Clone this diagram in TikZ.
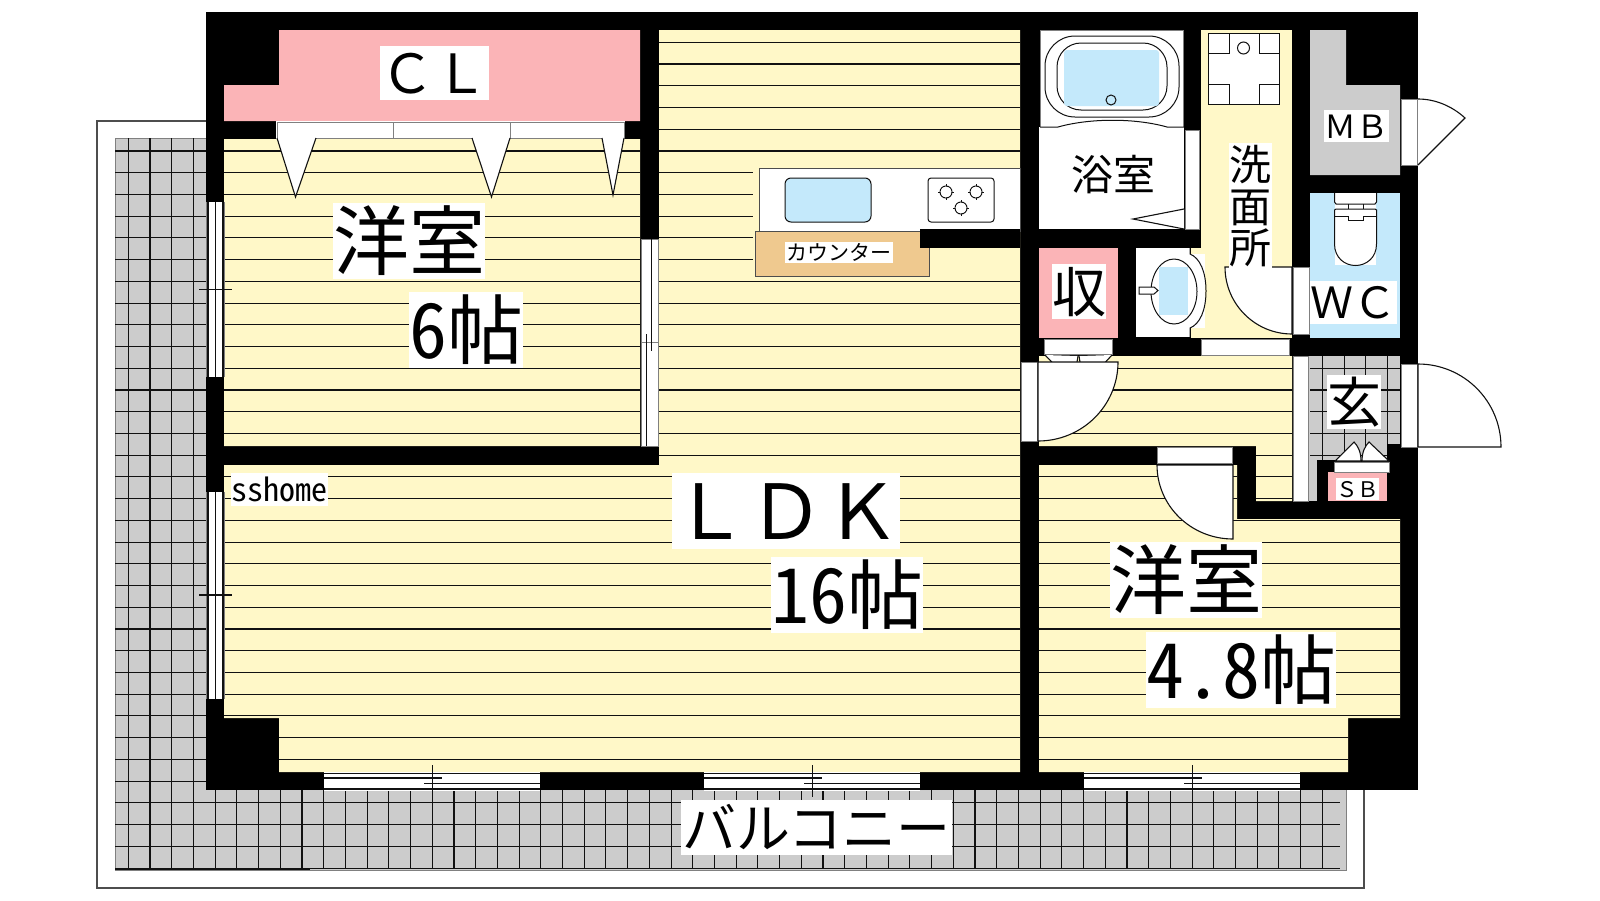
\documentclass[tikz,border=0pt]{standalone}
\usepackage{fontspec}
\newfontfamily\jp{Noto Sans CJK JP}
\newfontfamily\jph[RawFeature=+hwid]{Noto Sans CJK JP}
\definecolor{ye}{HTML}{FFF8C8}
\definecolor{pk}{HTML}{FBB4B7}
\definecolor{bl}{HTML}{C4E9FB}
\definecolor{gy}{HTML}{CCCCCC}
\definecolor{tn}{HTML}{EFC98F}
\definecolor{ln}{HTML}{111111}
\definecolor{fr}{HTML}{808080}
\tikzset{
  labbox/.style={fill=white,inner sep=0pt,outer sep=0pt,text=black},
  stripe/.style={draw=ln,line width=1.1pt},
  grid/.style={draw=ln,line width=1.1pt},
  frame/.style={fill=white,draw=fr,line width=1pt},
  inner/.style={draw=ln,line width=1.1pt},
  leaf/.style={fill=white,draw=ln,line width=1.1pt,line join=miter},
  fix/.style={draw=ln,line width=1pt},
}
\newcommand{\lab}[7]{\node[labbox,minimum width=#4pt,minimum height=#5pt] (#1) at (#2,#3) {\fontsize{#6pt}{#6pt}\selectfont\jp\rule[-.12em]{0pt}{1em}#7};}
\newcommand{\qdoor}[6]{\draw[leaf] (#1,#2) -- (#3,#4) .. controls ({#3+.5523*(#5-#1)},{#4+.5523*(#6-#2)}) and ({#5+.5523*(#3-#1)},{#6+.5523*(#4-#2)}) .. (#5,#6) -- cycle;}
\newcommand{\linedrooms}{(224,139) -- (640,139) -- (640,446) -- (224,446) -- cycle
 (659,30) -- (1020,30) -- (1020,772) -- (279,772) -- (279,718) -- (224,718) -- (224,465) -- (659,465) -- cycle
 (1039,465) -- (1237,465) -- (1237,519) -- (1400,519) -- (1400,718) -- (1348,718) -- (1348,772) -- (1039,772) -- cycle
 (1039,356) -- (1292,356) -- (1292,501) -- (1256,501) -- (1256,446) -- (1039,446) -- cycle}
\begin{document}
\begin{tikzpicture}[x=1pt,y=-1pt]
\useasboundingbox (0,0) rectangle (1600,900);
\fill[white] (0,0) rectangle (1600,900);
% balcony
\draw[draw=fr!60!black,line width=1.4pt,fill=white] (97,121) rectangle (1364,888);
\fill[gy] (115,138) rectangle (1346,870);
\draw[fr,line width=1pt] (115,138) rectangle (1346,870);
\foreach \k in {0,...,55} \draw[grid] ({128.3+21.71*\k},138) -- ({128.3+21.71*\k},868);
\foreach \k in {5,...,38} \draw[grid] (115,{42.3+21.73*\k}) -- (1340,{42.3+21.73*\k});
\draw[ln,line width=2pt] (115,869) -- (310,869);
% building mass
\fill[black] (206,12) rectangle (1418,790);
% yellow rooms
\fill[ye] \linedrooms;
\fill[ye] (1201,30) rectangle (1292,338);
\fill[ye] (1191,248) rectangle (1201,338);
\begin{scope}
\clip \linedrooms;
\foreach \k in {0,...,33} \draw[stripe] (224,{42.3+21.73*\k}) -- (1400,{42.3+21.73*\k});
\end{scope}
% closet
\fill[pk] (279,30) -- (640,30) -- (640,121) -- (224,121) -- (224,85) -- (279,85) -- cycle;
\fill[white] (276,120.5) rectangle (625,139);
\draw[frame] (277,122) rectangle (624,138);
\draw[fr,line width=1pt] (393,122) -- (393,138) (510,122) -- (510,138);
\draw[leaf] (277,138) -- (295.5,197) -- (316,138);
\draw[leaf] (472,138) -- (491.5,197) -- (510,138);
\draw[leaf] (602,138) -- (613,195) -- (624,138);
% sliding door LDK / bedroom
\draw[frame] (641,239) rectangle (658,446);
\draw[fr,line width=1pt] (641,342.7) -- (658,342.7);
\draw[inner] (651.7,239) -- (651.7,351);
\draw[inner] (646.7,334) -- (646.7,446);
% west windows
\foreach \t/\b/\m in {202/377/289.3,492/699/595}{
  \fill[white] (205.5,\t) rectangle (225,\b);
  \draw[fr,line width=1pt] (206.5,\t) -- (206.5,\b) (224,\t) -- (224,\b);
  \draw[inner] (208,\t) -- (208,\b) (215.3,\t) -- (215.3,\b) (223,\t) -- (223,\b);
  \draw[inner] (199,\m) -- (232,\m);
}
% south windows
\foreach \a in {324,704,1084}{
  \fill[white] (\a,771.5) rectangle (\a+216,791);
  \draw[inner] (\a,773.5) -- (\a+216,773.5);
  \draw[inner] (\a,789) -- (\a+216,789);
  \draw[inner] (\a,778) -- (\a+117.7,778);
  \draw[inner] (\a+100,783.5) -- (\a+216,783.5);
  \draw[inner] (\a+108.7,765) -- (\a+108.7,797);
}
% kitchen
\fill[ye] (753,161) rectangle (1020,278);
\draw[fr!60!black,line width=1pt,fill=white] (1020,168) -- (759,168) -- (759,231) -- (1020,231) -- cycle;
\draw[fix,rounded corners=6pt,fill=bl] (785,178) rectangle (871,222);
\draw[fix,rounded corners=3pt,fill=white] (928,178) rectangle (994,222);
\foreach \cx/\cy in {946/192,976/192,961/208}{
  \draw[fix,fill=white] (\cx,\cy) circle (6);
  \draw[fix] (\cx-8,\cy) -- (\cx+8,\cy) (\cx,\cy-8) -- (\cx,\cy+8);
  \draw[draw=none,fill=white] (\cx,\cy) circle (5.4);
}
\draw[draw=fr!60!black,line width=1pt,fill=tn] (755,231) rectangle (929,276);
\fill[black] (920,229) rectangle (1020,248);
% bath
\fill[white] (1040,30) rectangle (1183,127);
\fill[white] (1039,127) rectangle (1184,229);
\draw[fr,line width=.8pt] (1040,127) -- (1040,30) -- (1183,30) -- (1183,127);
\draw[fix,rounded corners=30pt] (1045,36) rectangle (1179,117);
\draw[fix,rounded corners=24pt] (1057,43) rectangle (1167,110);
\fill[bl,rounded corners=3pt] (1064,50) rectangle (1159,106);
\draw[fix,fill=bl] (1111,100) circle (5);
\draw[fix] (1040,127) -- (1058,127) .. controls (1090,118) and (1135,118) .. (1167,127) -- (1184,127);
\draw[frame] (1185,130) rectangle (1199.5,229);
\draw[leaf] (1184,209) -- (1133,219) -- (1184,229);
% washing machine pan
\draw[fix,fill=white] (1208,33) rectangle (1279,104);
\draw[fix] (1229,33) -- (1229,53) -- (1208,53);
\draw[fix] (1259,33) -- (1259,53) -- (1279,53);
\draw[fix] (1208,84) -- (1229,84) -- (1229,104);
\draw[fix] (1279,84) -- (1259,84) -- (1259,104);
\draw[fix] (1243.5,48) circle (6);
% MB
\fill[gy] (1310,30) -- (1346,30) -- (1346,85) -- (1400,85) -- (1400,175) -- (1310,175) -- cycle;
\draw[frame] (1401,99) rectangle (1417.5,165);
\draw[leaf] (1418,99) .. controls (1435,99) and (1452,106) .. (1465,118) -- (1418,165);
% WC
\fill[bl] (1310,193) rectangle (1400,338);
\fill[white] (1335,193) rectangle (1376,265);
\draw[fix] (1334.5,193) -- (1334.5,202) -- (1336,204) -- (1375,204) -- (1376.5,202) -- (1376.5,193);
\draw[fix] (1348,204) -- (1348,209) (1363,204) -- (1363,209);
\draw[fix] (1334.5,216) -- (1334.5,210) -- (1336,209) -- (1375,209) -- (1376.5,210) -- (1376.5,216);
\draw[fix] (1334.5,216) -- (1348,216) -- (1348,220) -- (1363,220) -- (1363,216) -- (1376.5,216);
\draw[fix] (1334.5,216) -- (1334.5,244) .. controls (1334.5,258) and (1345,265.5) .. (1355.5,265.5) .. controls (1366,265.5) and (1376.5,258) .. (1376.5,244) -- (1376.5,216);
% storage
\fill[pk] (1039,248) rectangle (1118,338);
\draw[frame] (1044,339) rectangle (1112,354);
\draw[leaf] (1045,355) -- (1069,380) -- (1076,368) -- (1078,356);
\draw[leaf] (1112,355) -- (1089,380) -- (1081,368) -- (1079,356);
% wash basin
\fill[white] (1136,248) rectangle (1190,337);
\fill[white] (1190,254) rectangle (1205,328);
\draw[fix] (1190,248) -- (1190,254) .. controls (1200,258) and (1206,272) .. (1206,291) .. controls (1206,310) and (1200,324) .. (1190,328) -- (1190,337);
\draw[fix] (1174,291.5) ellipse (23 and 32.5);
\fill[bl] (1159,267) rectangle (1188,315);
\draw[fix,fill=white] (1139,287) -- (1154,287) -- (1158,290.5) -- (1154,294) -- (1139,294) -- cycle;
% washroom south door frame and door
\draw[frame] (1201,339) rectangle (1289,355);
\draw[frame] (1293,267) rectangle (1309,334);
% hall sliding door and genkan
\fill[gy] (1308,356) rectangle (1400,501);
\begin{scope}
\clip (1308,356) rectangle (1400,501);
\foreach \k in {55,...,58} \draw[grid] ({128.3+21.71*\k},356) -- ({128.3+21.71*\k},470);
\foreach \k in {15,...,19} \draw[grid] (1310,{42.3+21.73*\k}) -- (1400,{42.3+21.73*\k});
\end{scope}
\draw[frame] (1293,356) rectangle (1308,501);
\fill[black] (1317,460) rectangle (1400,501);
\fill[black] (1387,444) rectangle (1400,460);
\fill[pk] (1328,472) rectangle (1387,501);
\draw[frame] (1334,462) rectangle (1389,472);
\draw[leaf] (1335,461) -- (1354,442) .. controls (1358,446) and (1361,452) .. (1361,461) -- cycle;
\draw[leaf] (1389,461) -- (1369,442) .. controls (1365,446) and (1362,452) .. (1362,461) -- cycle;
% LDK entry door
\draw[frame] (1021,362) rectangle (1037,441);
\qdoor{1038}{362}{1118}{362}{1038}{441}
% bedroom 2 door
\draw[frame] (1157,447) rectangle (1232,463);
\qdoor{1233}{465}{1157}{465}{1233}{539}
% washroom door
\qdoor{1292}{267}{1225}{267}{1292}{334}
% entrance door
\draw[frame] (1401,364) rectangle (1417.5,447);
\qdoor{1418}{447}{1418}{364}{1501}{447}
% labels
\lab{cl}{434.5}{73}{109}{54}{54}{ＣＬ}
\lab{w1}{409}{241}{152}{76}{76}{洋室}
\lab{s1}{466}{330}{114}{76}{76}{{\jph 6}帖}
\lab{ldk}{786}{511}{228}{74}{76}{ＬＤＫ}
\lab{s2}{847}{595}{152}{76}{76}{{\jph 16}帖}
\lab{w2}{1186}{580}{152}{76}{76}{洋室}
\lab{s3}{1241}{670}{190}{76}{76}{{\jph 4.8}帖}
\lab{bath}{1113}{174.5}{84}{42}{42}{浴室}
\lab{m1}{1250.5}{164.5}{43}{43}{42}{洗}
\lab{m2}{1250.5}{206.5}{43}{43}{42}{面}
\lab{m3}{1250.5}{248}{43}{42}{42}{所}
\lab{mb}{1356.5}{126}{65}{32}{32}{ＭＢ}
\lab{wc}{1353.5}{302.5}{87}{43}{43}{ＷＣ}
\lab{st}{1079}{291.5}{54}{55}{54}{収}
\lab{gk}{1354}{402}{54}{54}{54}{玄}
\lab{sb}{1357.5}{489}{43}{22}{21.5}{ＳＢ}
\lab{ct}{839}{252.5}{108}{21}{21}{カウンター}
\lab{bc}{816.5}{827.5}{271}{55}{54}{バルコニー}
\lab{ss}{279.5}{489.5}{97}{33}{32}{{\jph sshome}}
\end{tikzpicture}
\end{document}
